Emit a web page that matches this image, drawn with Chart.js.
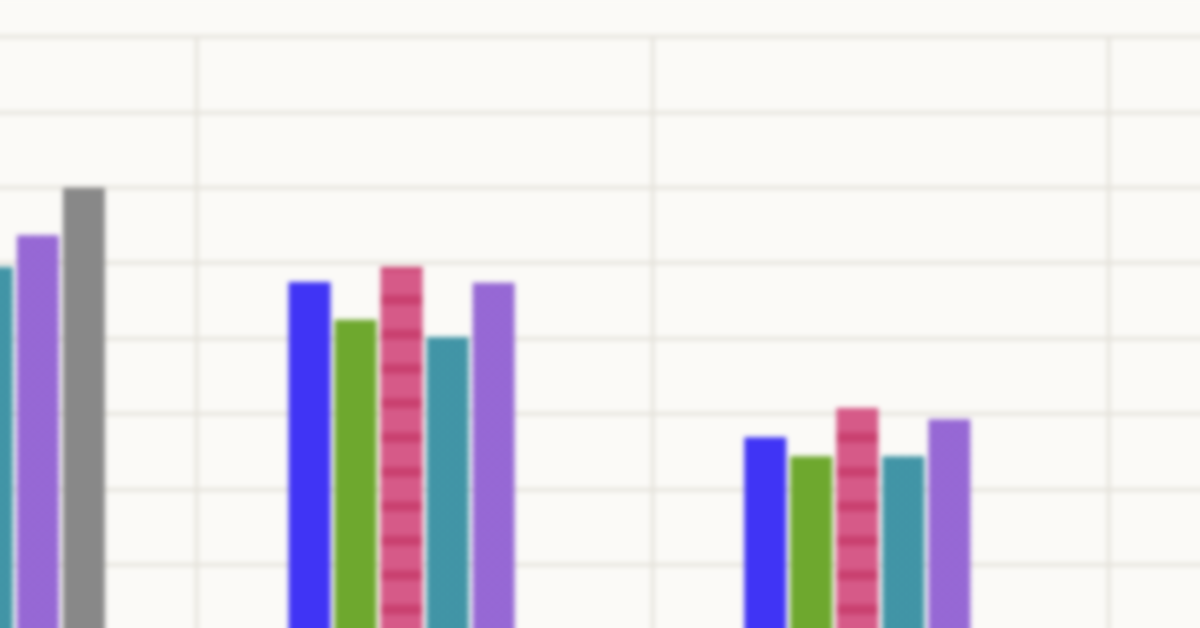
<!DOCTYPE html>
<html><head><meta charset="utf-8">
<script src="https://cdn.jsdelivr.net/npm/chart.js@4.4.1/dist/chart.umd.min.js"></script>
<style>
html,body{margin:0;padding:0;width:1200px;height:628px;overflow:hidden;background:#fbfaf7;}
#wrap{position:absolute;left:-259px;top:0;width:1823px;height:800px;}
#wrap canvas{filter:blur(2.4px);}
</style></head><body>
<div id="wrap"><canvas id="c"></canvas></div>
<script>
// ---- data ----
const categories = ['Group 1', 'Group 2', 'Group 3', 'Group 4'];
const seriesNames = ['Series A', 'Series B', 'Series C', 'Series D', 'Series E', 'Series F'];
const seriesA = [70.0, 67.5, 46.9, null];
const seriesB = [66.0, 62.5, 44.4, null];
const seriesC = [74.0, 69.5, 50.8, null];
const seriesD = [69.5, 60.2, 44.4, null];
const seriesE = [73.7, 67.4, 49.3, null];
const seriesF = [80.0, null, null, null];
const yTicks = [0, 10, 20, 30, 40, 50, 60, 70, 80, 90, 100];

// ---- patterns ----
function stripePattern(base, stripe) {
  const c = document.createElement('canvas');
  c.width = 8; c.height = 344;
  const g = c.getContext('2d');
  g.fillStyle = base; g.fillRect(0, 0, 8, 344);
  g.fillStyle = stripe;
  for (let k = 0; k < 10; k++) { g.fillRect(0, 24.8 + 34.4 * k - 5, 8, 10); }
  return g.createPattern(c, 'repeat');
}
function hatchPattern(base, line) {
  const s = 9;
  const c = document.createElement('canvas');
  c.width = s; c.height = s;
  const g = c.getContext('2d');
  g.fillStyle = base; g.fillRect(0, 0, s, s);
  g.strokeStyle = line; g.lineWidth = 2;
  g.beginPath();
  g.moveTo(0, 0); g.lineTo(s, s);
  g.moveTo(s, 0); g.lineTo(0, s);
  g.stroke();
  return g.createPattern(c, 'repeat');
}

const colors = [
  '#4034f5',
  '#6ea82e',
  stripePattern('#d65a88', '#c9406f'),
  hatchPattern('#4a9fb0', '#3a8c9e'),
  hatchPattern('#a074da', '#8e5ed0'),
  '#888888'
];
const values = [seriesA, seriesB, seriesC, seriesD, seriesE, seriesF];

const bgPlugin = {
  id: 'bg',
  beforeDraw(chart) {
    const ctx = chart.ctx;
    ctx.save();
    ctx.fillStyle = '#fbfaf7';
    ctx.fillRect(0, 0, chart.width, chart.height);
    ctx.restore();
  }
};

const gridColor = '#e4e1da';

new Chart(document.getElementById('c'), {
  type: 'bar',
  data: {
    labels: categories,
    datasets: values.map((v, i) => ({
      label: seriesNames[i],
      data: v,
      backgroundColor: colors[i],
      borderWidth: 0,
      categoryPercentage: 0.606,
      barPercentage: 0.913
    }))
  },
  options: {
    responsive: true,
    maintainAspectRatio: false,
    animation: false,
    layout: { padding: { top: 37, bottom: 9, left: 0, right: 0 } },
    plugins: { legend: { display: false }, tooltip: { enabled: false } },
    scales: {
      x: {
        offset: true,
        grid: { offset: true, color: gridColor, lineWidth: 3.5, drawTicks: false },
        border: { display: false },
        ticks: { display: false }
      },
      y: {
        min: yTicks[0],
        max: yTicks[yTicks.length - 1],
        afterBuildTicks(scale) { scale.ticks = yTicks.map(v => ({ value: v })); },
        grid: { color: gridColor, lineWidth: 3.5, drawTicks: false },
        border: { display: false },
        ticks: { display: false }
      }
    }
  },
  plugins: [bgPlugin]
});
</script>
</body></html>
